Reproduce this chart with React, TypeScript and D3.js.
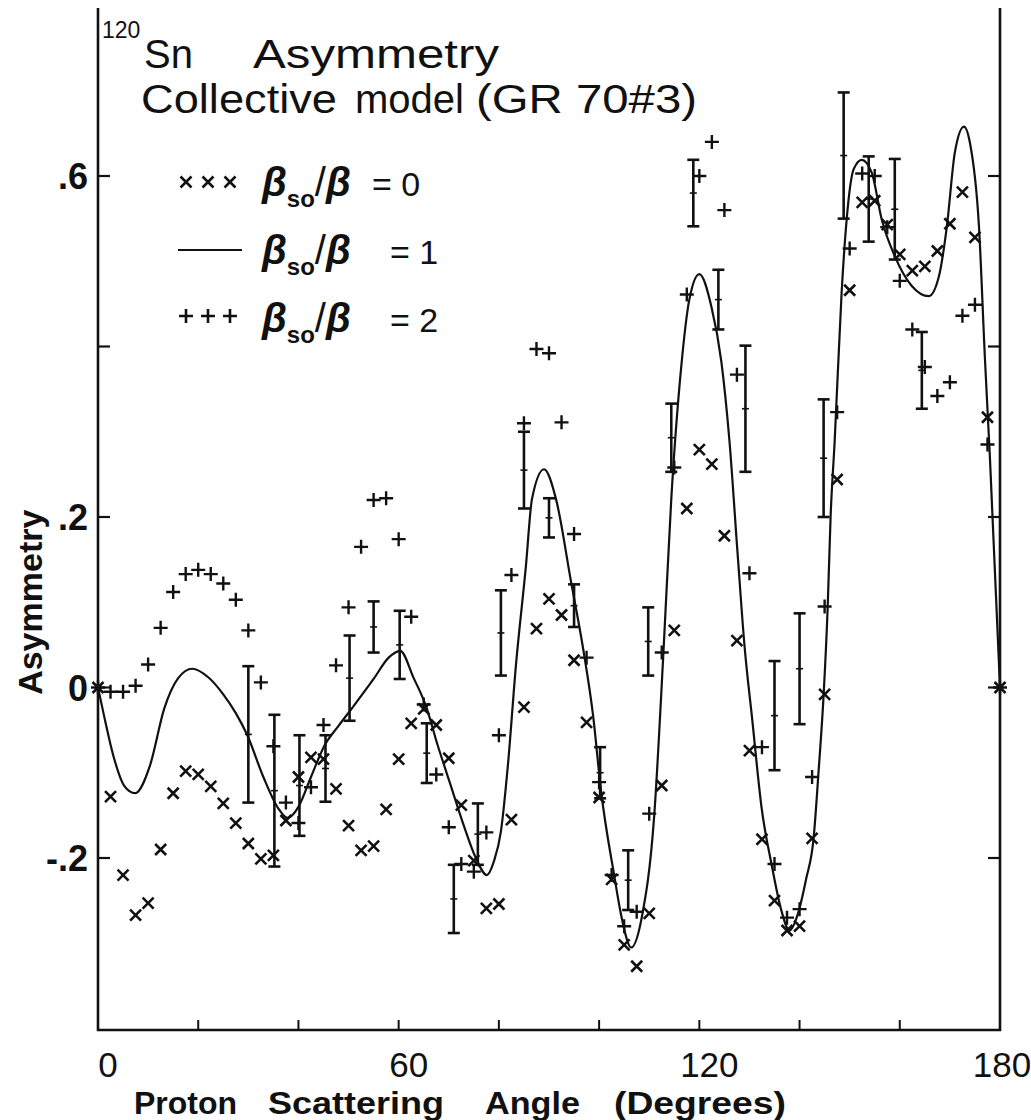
import React from "react";
import * as d3 from "d3";

// Calculated angles (degrees) shared by the two point-wise model series
const ANGLES = [
  0, 2.5, 5, 7.5, 10, 12.5, 15, 17.5, 20, 22.5,
  25, 27.5, 30, 32.5, 35, 37.5, 40, 42.5, 45, 47.5,
  50, 52.5, 55, 57.5, 60, 62.5, 65, 67.5, 70, 72.5,
  75, 77.5, 80, 82.5, 85, 87.5, 90, 92.5, 95, 97.5,
  100, 102.5, 105, 107.5, 110, 112.5, 115, 117.5, 120, 122.5,
  125, 127.5, 130, 132.5, 135, 137.5, 140, 142.5, 145, 147.5,
  150, 152.5, 155, 157.5, 160, 162.5, 165, 167.5, 170, 172.5,
  175, 177.5, 180,
];

// beta_so / beta = 0  (x marks)
const RATIO0 = [
  0, -0.128, -0.22, -0.267, -0.253, -0.19, -0.124, -0.098, -0.102, -0.116,
  -0.136, -0.159, -0.183, -0.201, -0.197, -0.156, -0.105, -0.082, -0.084, -0.119,
  -0.162, -0.191, -0.186, -0.143, -0.084, -0.042, -0.025, -0.044, -0.083, -0.138,
  -0.203, -0.259, -0.254, -0.155, -0.023, 0.069, 0.104, 0.085, 0.032, -0.041,
  -0.129, -0.225, -0.302, -0.327, -0.265, -0.115, 0.067, 0.21, 0.279, 0.262,
  0.178, 0.055, -0.074, -0.178, -0.25, -0.285, -0.28, -0.177, -0.008, 0.244,
  0.466, 0.569, 0.571, 0.543, 0.508, 0.489, 0.494, 0.512, 0.544, 0.581,
  0.528, 0.317, 0,
];

// beta_so / beta = 2  (+ marks)
const RATIO2 = [
  0, -0.005, -0.005, 0.002, 0.027, 0.07, 0.112, 0.133, 0.138, 0.133,
  0.122, 0.103, 0.067, 0.006, -0.069, -0.135, -0.159, -0.117, -0.044, 0.026,
  0.094, 0.165, 0.22, 0.222, 0.174, 0.083, -0.02, -0.102, -0.164, -0.207,
  -0.216, -0.17, -0.056, 0.132, 0.31, 0.397, 0.392, 0.311, 0.18, 0.035,
  -0.111, -0.22, -0.28, -0.263, -0.148, 0.041, 0.258, 0.461, 0.6, 0.64,
  0.56, 0.367, 0.134, -0.07, -0.207, -0.27, -0.26, -0.105, 0.095, 0.323,
  0.515, 0.603, 0.6, 0.54, 0.477, 0.42, 0.376, 0.342, 0.358, 0.436,
  0.449, 0.285, 0,
];

// beta_so / beta = 1  (solid curve)
const CURVE_ANGLES = [
  0, 1.2, 3.2, 5.2, 7.4, 10.4, 13.2, 16, 18.8, 22, 25, 27.5, 29.8, 33, 36, 37.8,
  40, 42.5, 45.2, 48, 50.6, 55, 58, 60.3, 63, 65.4, 67.8, 70.4, 73, 75.4, 77.6,
  79, 80.4, 81.8, 83.4, 85.4, 86.6, 89, 91.4, 94.4, 96.8, 98.8, 100.4, 103,
  104.5, 106.4, 108.5, 111, 112.8, 114.4, 116.4, 118, 120, 122.4, 124.4, 126,
  127.6, 129, 130.6, 132.4, 134.5, 136.3, 138, 139.7, 141.3, 142.8, 143.8,
  144.8, 145.6, 146.2, 147, 148.4, 149.4, 150.8, 152.4, 154.4, 156.4, 159,
  162.4, 165.8, 167.8, 169.4, 171, 172.8, 174, 175.8, 177, 178, 180,
];
const CURVE_VALUES = [
  0, -0.033, -0.083, -0.115, -0.124, -0.091, -0.025, 0.011, 0.022, 0.012, -0.008, -0.03, -0.056, -0.105, -0.142, -0.153,
  -0.14, -0.105, -0.068, -0.045, -0.025, 0.01, 0.035, 0.043, 0.011, -0.021, -0.068, -0.115, -0.162, -0.2, -0.22,
  -0.204, -0.169, -0.091, 0.026, 0.143, 0.221, 0.256, 0.221, 0.124, 0.046, -0.033, -0.122, -0.22,
  -0.27, -0.305, -0.27, -0.15, 0.037, 0.221, 0.377, 0.455, 0.485, 0.447, 0.382, 0.29,
  0.16, 0.05, -0.04, -0.14, -0.21, -0.26, -0.285, -0.265, -0.225, -0.177, -0.098,
  -0.009, 0.092, 0.201, 0.288, 0.464, 0.549, 0.608, 0.619, 0.604, 0.549, 0.506,
  0.471, 0.459, 0.482, 0.541, 0.628, 0.658, 0.639, 0.541, 0.385, 0.268, 0,
];

// Measured asymmetry with errors
const EXP_ANGLES = [
  30, 35.2, 40.2, 45.4, 50.2, 55, 60.2, 65.6, 71, 75.8, 80.4, 85, 90, 95,
  100.2, 105.8, 109.8, 114.4, 118.8, 123.8, 129.2, 135, 140, 144.8, 148.8,
  153.8, 159, 164.4,
];
const EXP_VALUES = [
  -0.055, -0.121, -0.115, -0.095, 0.011, 0.071, 0.05, -0.077, -0.248, -0.172, 0.064, 0.255, 0.199, 0.096,
  -0.1, -0.226, 0.054, 0.293, 0.58, 0.455, 0.327, -0.033, 0.022, 0.269, 0.624,
  0.573, 0.561, 0.372,
];
const EXP_ERRORS = [
  0.08, 0.089, 0.059, 0.039, 0.05, 0.03, 0.04, 0.035, 0.04, 0.036, 0.05, 0.045, 0.023, 0.025,
  0.03, 0.035, 0.04, 0.04, 0.039, 0.035, 0.074, 0.064, 0.065, 0.069, 0.074,
  0.05, 0.059, 0.045,
];

const X_TICKS = [20, 40, 60, 80, 100, 120, 140, 160];
const X_LABELS = [0, 60, 120, 180];
const Y_TICKS = [-0.2, 0, 0.2, 0.4, 0.6];
const Y_LABELS = [
  { v: 0.6, t: ".6" },
  { v: 0.2, t: ".2" },
  { v: 0, t: "0" },
  { v: -0.2, t: "-.2" },
];

const FONT = "'Liberation Sans', Arial, sans-serif";
const INK = "#111";

const xMark = "M-5.5,-5.5L5.5,5.5M-5.5,5.5L5.5,-5.5";
const plusMark = "M-7,0H7M0,-7V7";

export default function App() {
  const x = d3.scaleLinear().domain([0, 180]).range([98, 1000]);
  const y = d3.scaleLinear().domain([-0.2, 0.6]).range([858, 176]);

  const left = x(0);
  const right = x(180);
  const top = 8;
  const bottom = 1030;

  const curve = d3
    .line<number>()
    .x((_, i) => x(CURVE_ANGLES[i]))
    .y((d) => y(d))
    .curve(d3.curveMonotoneX)(CURVE_VALUES);

  const betaLabel = (ty: number, val: string, eqX: number, key: string) => (
    <text key={key} x={262} y={ty} fontFamily={FONT} fontSize={40} fill={INK}>
      <tspan fontStyle="italic" fontWeight="bold">β</tspan>
      <tspan fontSize={24} fontWeight="bold" dy={11}>so</tspan>
      <tspan dy={-11} fontSize={40}>/</tspan>
      <tspan fontStyle="italic" fontWeight="bold">β</tspan>
      <tspan x={eqX} fontSize={34}>{"= " + val}</tspan>
    </text>
  );

  return (
    <svg
      width={1031}
      height={1120}
      viewBox="0 0 1031 1120"
      style={{ position: "absolute", left: 0, top: 0, background: "#fff" }}
    >
      <rect x={0} y={0} width={1031} height={1120} fill="#fff" />

      {/* frame: left, bottom and right sides */}
      <path
        d={`M${left},${top}V${bottom}H${right}V${top}`}
        fill="none"
        stroke={INK}
        strokeWidth={2.6}
      />

      {/* bottom ticks */}
      {X_TICKS.map((t) => (
        <line key={"xt" + t} x1={x(t)} x2={x(t)} y1={bottom} y2={bottom - 10} stroke={INK} strokeWidth={2} />
      ))}
      {/* side ticks */}
      {Y_TICKS.map((t) => (
        <g key={"yt" + t}>
          <line x1={left} x2={left + 12} y1={y(t)} y2={y(t)} stroke={INK} strokeWidth={2.2} />
          <line x1={right} x2={right - 12} y1={y(t)} y2={y(t)} stroke={INK} strokeWidth={2.2} />
        </g>
      ))}

      {/* tick labels */}
      {X_LABELS.map((t) => (
        <text
          key={"xl" + t}
          x={x(t) + (t === 180 ? 2 : 10)}
          y={1077}
          textAnchor="middle"
          fontFamily={FONT}
          fontSize={35}
          fill={INK}
        >
          {t}
        </text>
      ))}
      {Y_LABELS.map((d) => (
        <text
          key={"yl" + d.t}
          x={88}
          y={y(d.v) + 13}
          textAnchor="end"
          fontFamily={FONT}
          fontSize={36}
          fontWeight="bold"
          fill={INK}
        >
          {d.t}
        </text>
      ))}

      {/* axis titles */}
      <text
        transform={`translate(42,${y(0.1)}) rotate(-90)`}
        textAnchor="middle"
        fontFamily={FONT}
        fontSize={34}
        fontWeight="bold"
        fill={INK}
      >
        Asymmetry
      </text>
      <g fontFamily={FONT} fontSize={32} fontWeight="bold" fill={INK}>
        <text x={134} y={1114}>Proton</text>
        <text x={268} y={1114} textLength={176} lengthAdjust="spacingAndGlyphs">Scattering</text>
        <text x={485} y={1114} textLength={95} lengthAdjust="spacingAndGlyphs">Angle</text>
        <text x={614} y={1114} textLength={172} lengthAdjust="spacingAndGlyphs">(Degrees)</text>
      </g>

      {/* title */}
      <g fontFamily={FONT} fill={INK}>
        <text x={102} y={38} fontSize={23}>120</text>
        <text x={144} y={68} fontSize={40}>Sn</text>
        <text x={253} y={68} fontSize={40} textLength={246} lengthAdjust="spacingAndGlyphs">Asymmetry</text>
        <text x={141} y={113} fontSize={40} textLength={196} lengthAdjust="spacingAndGlyphs">Collective</text>
        <text x={355} y={113} fontSize={40}>model</text>
        <text x={476} y={113} fontSize={40} textLength={221} lengthAdjust="spacingAndGlyphs">(GR 70#3)</text>
      </g>

      {/* legend */}
      {[186, 208, 230].map((lx) => (
        <path key={"lx" + lx} d={xMark} transform={`translate(${lx},182)`} stroke={INK} strokeWidth={2.6} fill="none" />
      ))}
      <line x1={178} x2={242} y1={250} y2={250} stroke={INK} strokeWidth={2} />
      {[186, 208, 230].map((lx) => (
        <path key={"lp" + lx} d={plusMark} transform={`translate(${lx},316)`} stroke={INK} strokeWidth={2.6} fill="none" />
      ))}
      {betaLabel(196, "0", 372, "b0")}
      {betaLabel(264, "1", 390, "b1")}
      {betaLabel(332, "2", 390, "b2")}

      {/* model curve, ratio 1 */}
      <path d={curve ?? ""} fill="none" stroke={INK} strokeWidth={2.2} />

      {/* model points, ratio 0 */}
      {ANGLES.map((a, i) => (
        <path
          key={"r0" + a}
          d={xMark}
          transform={`translate(${x(a)},${y(RATIO0[i])})`}
          stroke={INK}
          strokeWidth={2.6}
          fill="none"
        />
      ))}
      {/* model points, ratio 2 */}
      {ANGLES.map((a, i) => (
        <path
          key={"r2" + a}
          d={plusMark}
          transform={`translate(${x(a)},${y(RATIO2[i])})`}
          stroke={INK}
          strokeWidth={2.4}
          fill="none"
        />
      ))}

      {/* measured data with error bars */}
      {EXP_ANGLES.map((a, i) => {
        const cx = x(a);
        const y1 = y(EXP_VALUES[i] + EXP_ERRORS[i]);
        const y2 = y(EXP_VALUES[i] - EXP_ERRORS[i]);
        const yc = y(EXP_VALUES[i]);
        return (
          <g key={"e" + a} stroke={INK} fill="none">
            <line x1={cx} x2={cx} y1={y1} y2={y2} strokeWidth={2.6} />
            <line x1={cx - 6} x2={cx + 6} y1={y1} y2={y1} strokeWidth={2.6} />
            <line x1={cx - 6} x2={cx + 6} y1={y2} y2={y2} strokeWidth={2.6} />
            <line x1={cx - 3.5} x2={cx + 3.5} y1={yc} y2={yc} strokeWidth={1.6} />
          </g>
        );
      })}
    </svg>
  );
}
